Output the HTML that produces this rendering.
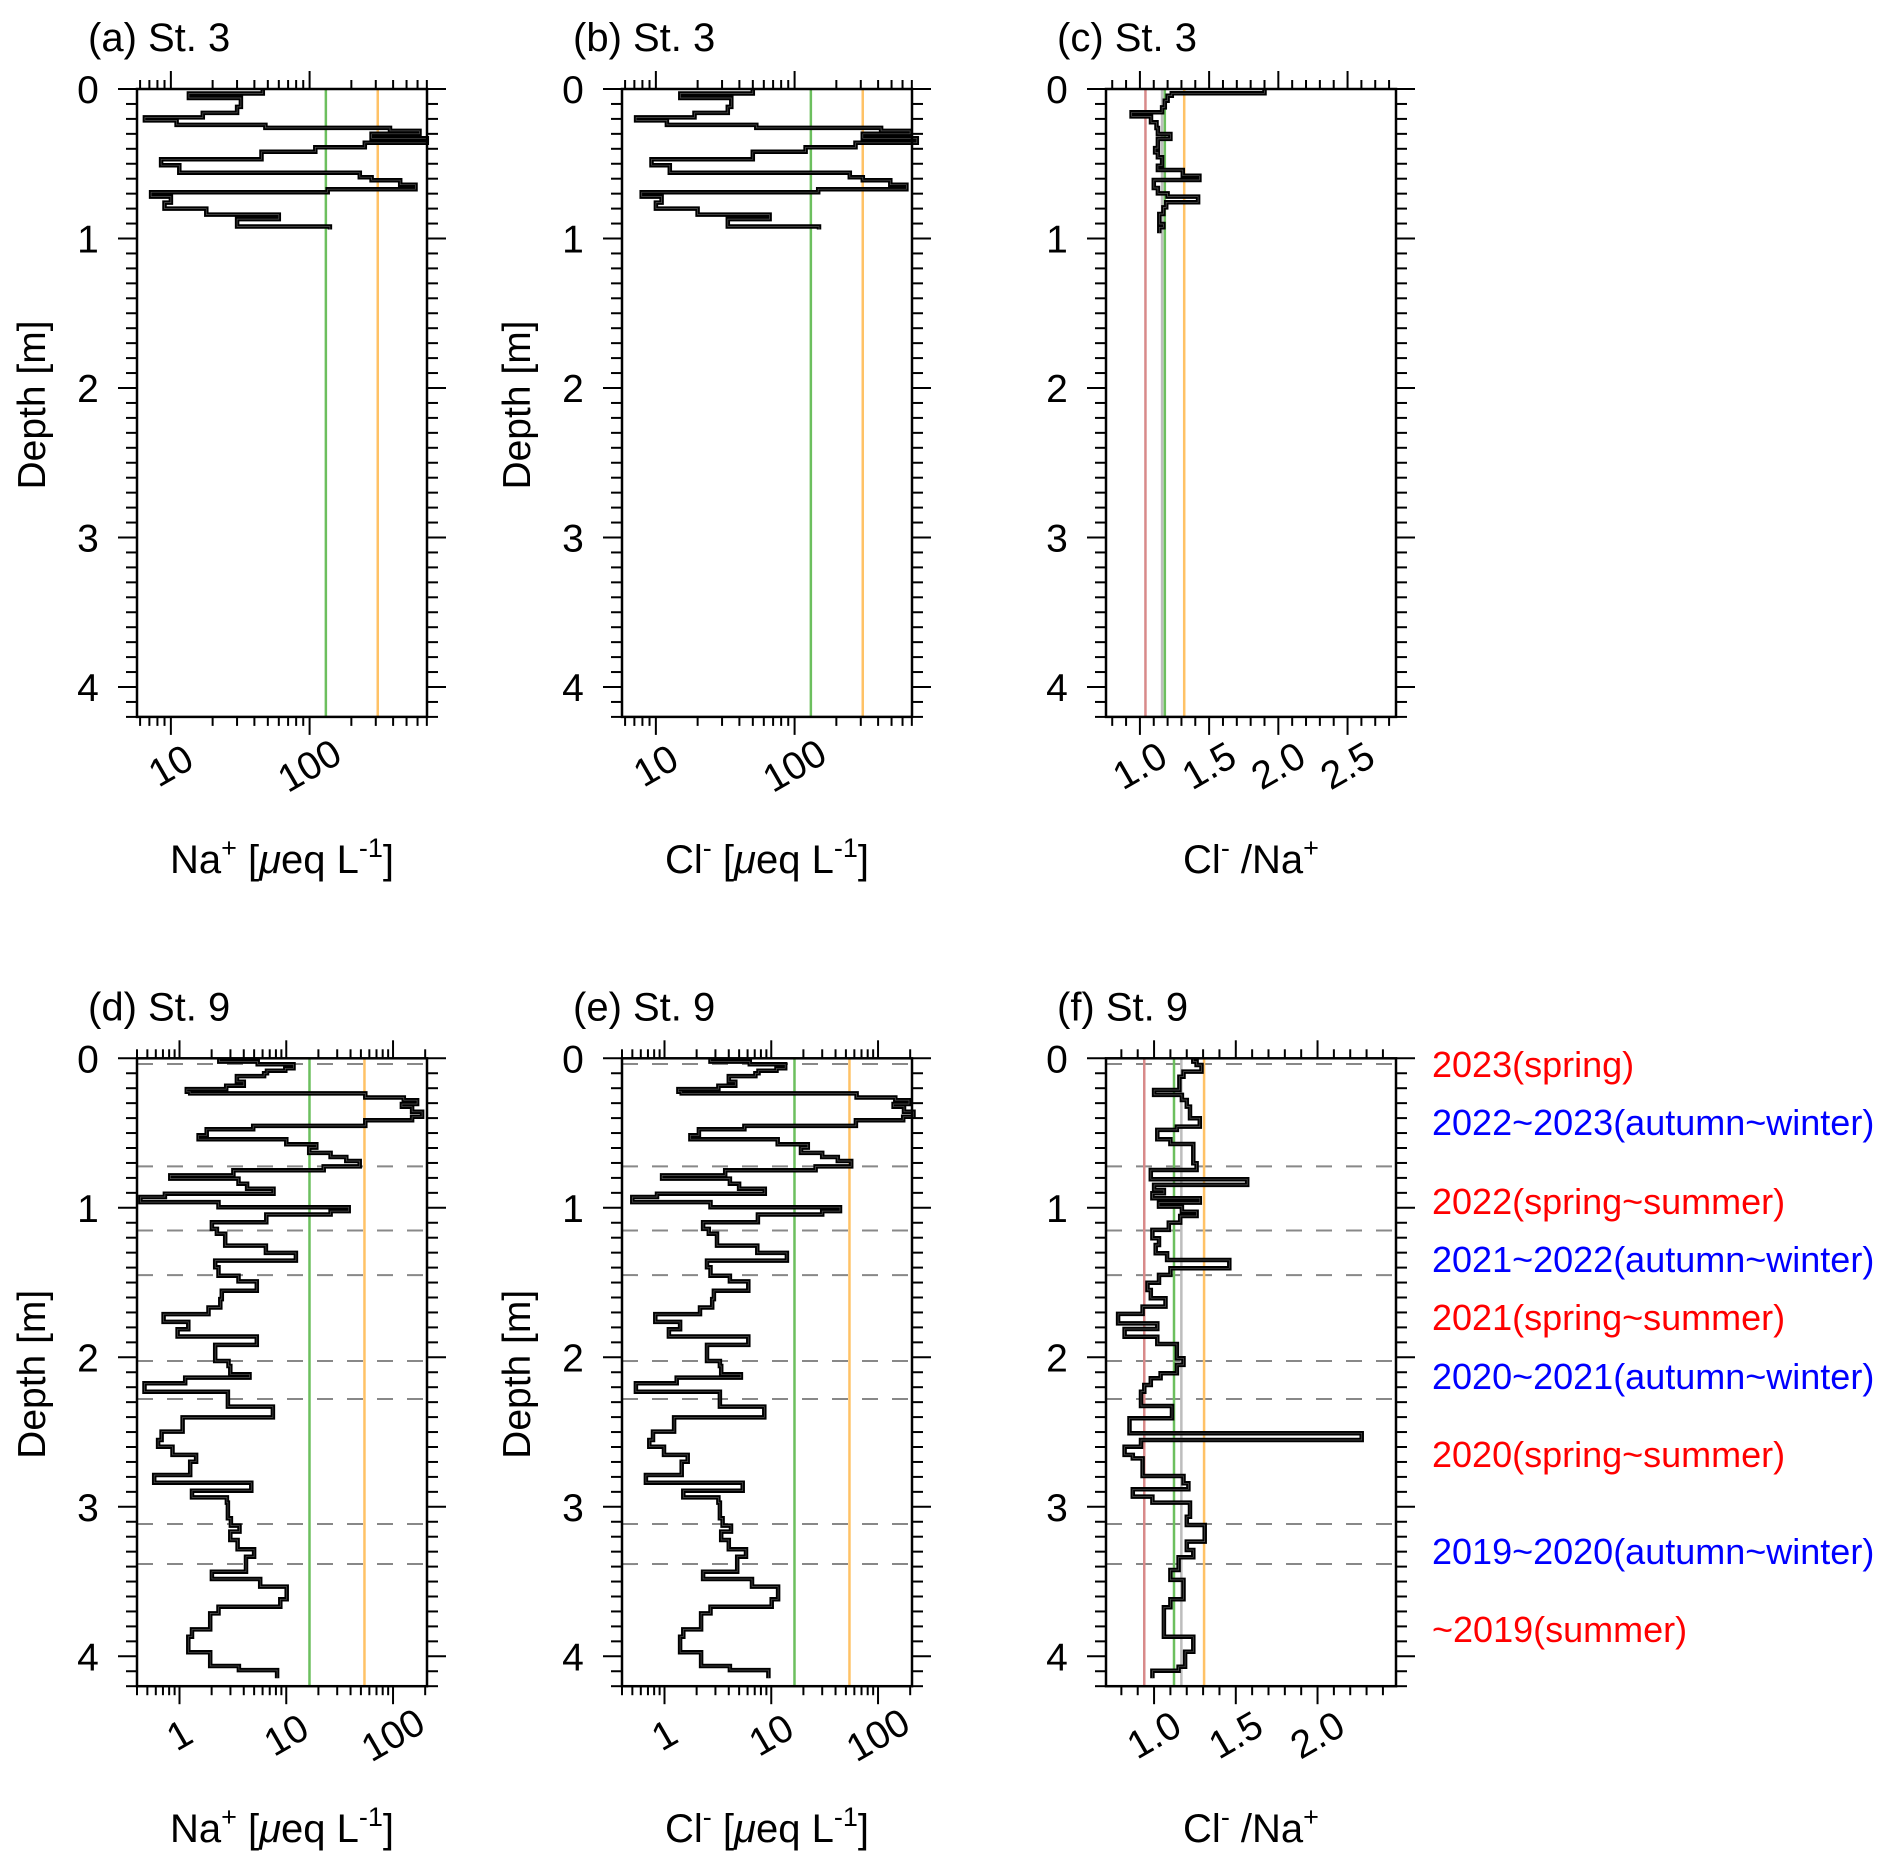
<!DOCTYPE html>
<html><head><meta charset="utf-8"><style>
html,body{margin:0;padding:0;background:#fff;}
svg{display:block;font-family:"Liberation Sans",Arial,sans-serif;}
</style></head><body>
<svg id="fig" width="1892" height="1870" viewBox="0 0 1892 1870" xmlns="http://www.w3.org/2000/svg"></svg>
<script>
// ---- data ----
const depthA=[0.03,0.06,0.12,0.16,0.19,0.21,0.24,0.26,0.28,0.30,0.33,0.36,0.39,0.42,0.47,0.51,0.56,0.59,0.61,0.64,0.67,0.69,0.72,0.76,0.80,0.84,0.87,0.92,0.94];
const naA=[46,13.5,32,30,17,6.5,11,48,380,620,280,700,250,110,45,8.5,11.5,230,280,450,580,135,7.2,10,9,18,60,30,140];
const clB=[50,15,35,33,19,7.2,12,53,420,680,310,760,275,120,50,9.3,12.6,250,310,490,640,148,7.9,11,10,20,66,33,150];
const depthC=[0.029,0.045,0.078,0.123,0.156,0.183,0.223,0.261,0.301,0.334,0.395,0.424,0.457,0.513,0.542,0.58,0.609,0.662,0.698,0.72,0.758,0.792,0.836,0.903,0.925,0.965];
const ratioC=[1.90,1.23,1.20,1.18,1.16,0.94,1.08,1.12,1.13,1.22,1.13,1.11,1.13,1.16,1.13,1.31,1.43,1.10,1.13,1.20,1.42,1.19,1.17,1.14,1.17,1.14];
const depthD=[0.022,0.040,0.067,0.083,0.10,0.119,0.157,0.183,0.206,0.224,0.235,0.262,0.280,0.306,0.324,0.358,0.391,0.414,0.452,0.474,0.515,0.541,0.575,0.597,0.633,0.660,0.687,0.723,0.749,0.783,0.805,0.839,0.872,0.906,0.928,0.962,0.996,1.022,1.045,1.096,1.141,1.174,1.253,1.302,1.353,1.398,1.454,1.492,1.555,1.611,1.667,1.711,1.763,1.812,1.861,1.917,2.025,2.058,2.114,2.136,2.174,2.230,2.330,2.402,2.497,2.553,2.598,2.653,2.698,2.787,2.839,2.892,2.937,2.972,3.077,3.126,3.166,3.222,3.284,3.334,3.434,3.483,3.534,3.619,3.668,3.713,3.82,3.869,3.973,4.065,4.092,4.147];
const naD=[2.36,5.4,11.7,9.8,6.6,6.2,3.45,4.0,2.74,1.17,1.26,55,126,168,121,151,187,151,55,4.9,1.8,1.51,10,19.1,16.4,26,36.5,48.7,22.4,3.2,0.82,3.57,4.3,7.6,0.73,0.43,2.32,38.4,26,6.5,2.01,2.24,2.68,6.45,12.3,2.16,2.32,3.57,5.3,2.49,2.41,1.87,0.71,1.21,0.96,5.3,2.16,2.88,2.99,4.53,1.13,0.47,2.84,7.5,1.07,0.68,0.63,0.86,1.43,1.26,0.58,4.7,1.31,2.78,2.84,3.03,3.65,2.99,3.5,5.0,4.2,2.01,5.7,10.1,8.8,2.32,1.94,1.31,1.21,1.94,3.6,8.2];
const clE=[2.7,6.3,13.5,11.2,7.6,7.1,4.0,4.6,3.2,1.35,1.45,63,145,195,140,175,215,172,62,5.6,2.1,1.75,11.5,22,19,30,42,56,26,3.7,0.95,4.1,5.0,8.7,0.85,0.5,2.7,44,30,7.5,2.3,2.6,3.1,7.4,14,2.5,2.7,4.1,6.1,2.9,2.8,2.15,0.82,1.4,1.1,6.1,2.5,3.3,3.4,5.2,1.3,0.54,3.3,8.6,1.23,0.78,0.72,0.99,1.65,1.45,0.67,5.4,1.5,3.2,3.3,3.5,4.2,3.4,4.0,5.8,4.8,2.3,6.6,11.6,10.1,2.7,2.2,1.5,1.4,2.2,4.1,9.4];
const depthF=[0.022,0.045,0.089,0.123,0.212,0.245,0.279,0.323,0.401,0.457,0.479,0.542,0.573,0.702,0.747,0.809,0.847,0.881,0.903,0.936,0.965,0.992,1.026,1.055,1.099,1.148,1.204,1.249,1.304,1.349,1.405,1.449,1.501,1.55,1.605,1.661,1.71,1.773,1.811,1.862,1.911,2.007,2.051,2.107,2.14,2.185,2.23,2.326,2.408,2.508,2.553,2.598,2.653,2.676,2.794,2.843,2.883,2.932,2.972,3.066,3.122,3.233,3.289,3.338,3.423,3.489,3.618,3.672,3.869,3.97,4.07,4.096,4.147];
const ratioF=[1.24,1.26,1.29,1.18,1.155,1.0,1.17,1.20,1.22,1.28,1.14,1.02,1.10,1.24,1.26,0.98,1.57,1.0,1.06,0.99,1.28,1.03,1.17,1.26,1.16,1.09,0.99,1.03,1.01,1.08,1.46,1.10,1.03,0.96,0.98,1.07,0.93,0.78,1.02,0.82,1.02,1.14,1.18,1.14,1.04,0.98,0.94,0.92,1.11,0.85,2.27,0.92,0.82,0.87,0.93,1.18,1.21,0.87,0.99,1.22,1.20,1.31,1.20,1.24,1.15,1.10,1.18,1.10,1.06,1.24,1.19,1.15,0.99];
const refTop=[131,310];       // green, orange for (a),(b)
const refBot=[16.5,54];       // green, orange for (d),(e)
const refC=[1.04,1.16,1.18,1.32]; // red, gray, green, orange
const refF=[0.94,1.167,1.122,1.306];
const seasonDepths=[0.038,0.723,1.152,1.45,2.025,2.279,3.115,3.383];
const seasonLabels=["2023(spring)","2022~2023(autumn~winter)","2022(spring~summer)","2021~2022(autumn~winter)","2021(spring~summer)","2020~2021(autumn~winter)","2020(spring~summer)","2019~2020(autumn~winter)","~2019(summer)"];
const seasonColors=["#ff0000","#0000ff","#ff0000","#0000ff","#ff0000","#0000ff","#ff0000","#0000ff","#ff0000"];
const seasonY=[1064,1122,1201,1259,1317,1376,1454,1551,1629];

// ---- drawing ----
const NS="http://www.w3.org/2000/svg";
const svg=document.getElementById('fig');
function mk(tag,attrs,parent){const e=document.createElementNS(NS,tag);for(const k in attrs)e.setAttribute(k,attrs[k]);(parent||svg).appendChild(e);return e;}
const PPM=149.5, DMAX=4.2;

function panel(p){
  const g=mk('g',{});
  
  
  const L=p.left,R=p.left+290,T=p.y0,B=p.y0+DMAX*PPM;
  const sx=v=>p.log? L+(Math.log10(v)-Math.log10(p.xmin))/(Math.log10(p.xmax)-Math.log10(p.xmin))*(R-L) : L+(v-p.xmin)/(p.xmax-p.xmin)*(R-L);
  const sy=d=>T+d*PPM;
  if(p.dashed){for(const d of seasonDepths){const l=mk('line',{x1:L,x2:R,y1:sy(d),y2:sy(d),stroke:'#888','stroke-width':2,'stroke-dasharray':'16,14'},g);
    
    }}
  p.refs.forEach((v,i)=>{const l=mk('line',{x1:sx(v),x2:sx(v),y1:T,y2:B,stroke:p.refColors[i],'stroke-width':2.5},g);
    
    });
  let d='',prev=0;
  p.vals.forEach((v,i)=>{const x=sx(v);d+=(i===0?'M':'L')+x.toFixed(1)+','+sy(prev).toFixed(1)+'L'+x.toFixed(1)+','+sy(p.depths[i]).toFixed(1);prev=p.depths[i];});
  const pr=mk('path',{d:d,fill:'none',stroke:'#000','stroke-width':4.5,'stroke-linejoin':'miter'},g);
  
  
  const pr2=mk('path',{d:d,fill:'none',stroke:'#555','stroke-width':0.7},g);
  
  
  const fr=mk('rect',{x:L,y:T,width:R-L,height:B-T,fill:'none',stroke:'#000','stroke-width':2.5},g);
  
  
  for(let k=0;k<=42;k++){const y=sy(k/10),len=(k%10===0)?19:11;
    mk('line',{x1:L-len,x2:L,y1:y,y2:y,stroke:'#000','stroke-width':2},g);
    mk('line',{x1:R,x2:R+len,y1:y,y2:y,stroke:'#000','stroke-width':2},g);
    if(k%10===0){const t=mk('text',{x:L-49,y:y+14,'font-size':39,'text-anchor':'middle'},g);t.textContent=String(k/10);
      
      }}
  const ticks=[];
  if(p.log){for(let e=-1;e<=3;e++)for(let m=1;m<=9;m++){const v=m*Math.pow(10,e);if(v>=p.xmin&&v<=p.xmax)ticks.push([v,m===1]);}}
  else{for(let k=Math.ceil(p.xmin*10);k<=Math.floor(p.xmax*10);k++)ticks.push([k/10,k%5===0]);}
  ticks.forEach(([v,maj])=>{const x=sx(v),len=maj?18:9;
    mk('line',{x1:x,x2:x,y1:T-len,y2:T,stroke:'#000','stroke-width':2},g);
    mk('line',{x1:x,x2:x,y1:B,y2:B+len,stroke:'#000','stroke-width':2},g);});
  p.labels.forEach(v=>{const x=sx(v),y=B+62;
    const t=mk('text',{x:x,y:y,'font-size':39,'text-anchor':'middle',transform:`rotate(-30 ${x} ${y-13})`},g);
    t.textContent=p.log?String(v):v.toFixed(1);
    
    });
  const ti=mk('text',{x:L-49,y:T-38,'font-size':40},g);ti.textContent=p.title;
  
  
  if(p.ytitle){const yy=T+316,xx=L-92;const t=mk('text',{x:xx,y:yy,'font-size':39,'text-anchor':'middle',transform:`rotate(-90 ${xx} ${yy})`},g);t.textContent='Depth [m]';
    
    }
  const xt=mk('text',{x:L+145,y:B+156,'font-size':40,'text-anchor':'middle'},g);
  xt.innerHTML=p.xtitle;
  
  
}
const sup=s=>`<tspan dy="-16" font-size="27">${s}</tspan><tspan dy="16"> </tspan>`;
const naT=`Na${sup('+')}[<tspan font-style="italic">μ</tspan>eq L<tspan dy="-16" font-size="27">-1</tspan><tspan dy="16">]</tspan>`;
const clT=`Cl${sup('-')}[<tspan font-style="italic">μ</tspan>eq L<tspan dy="-16" font-size="27">-1</tspan><tspan dy="16">]</tspan>`;
const rT=`Cl<tspan dy="-16" font-size="27">-</tspan><tspan dy="16"> /Na</tspan><tspan dy="-16" font-size="27">+</tspan>`;
const cTop=['#6cbf5e','#ffc266'], cR=['#d88a8a','#bdbdbd','#6cbf5e','#ffc266'];
panel({name:'panel-a',left:137,y0:89,xmin:5.7,xmax:702,log:true,depths:depthA,vals:naA,refs:refTop,refColors:cTop,labels:[10,100],title:'(a) St. 3',ytitle:true,xtitle:naT});
panel({name:'panel-b',left:622,y0:89,xmin:5.7,xmax:702,log:true,depths:depthA,vals:clB,refs:refTop,refColors:cTop,labels:[10,100],title:'(b) St. 3',ytitle:true,xtitle:clT});
panel({name:'panel-c',left:1106,y0:89,xmin:0.755,xmax:2.85,log:false,depths:depthC,vals:ratioC,refs:refC,refColors:cR,labels:[1.0,1.5,2.0,2.5],title:'(c) St. 3',ytitle:false,xtitle:rT});
panel({name:'panel-d',left:137,y0:1058.3,xmin:0.40,xmax:208,log:true,depths:depthD,vals:naD,refs:refBot,refColors:cTop,labels:[1,10,100],title:'(d) St. 9',ytitle:true,xtitle:naT,dashed:true});
panel({name:'panel-e',left:622,y0:1058.3,xmin:0.40,xmax:208,log:true,depths:depthD,vals:clE,refs:refBot,refColors:cTop,labels:[1,10,100],title:'(e) St. 9',ytitle:true,xtitle:clT,dashed:true});
panel({name:'panel-f',left:1106,y0:1058.3,xmin:0.706,xmax:2.48,log:false,depths:depthF,vals:ratioF,refs:refF,refColors:cR,labels:[1.0,1.5,2.0],title:'(f) St. 9',ytitle:false,xtitle:rT,dashed:true});
seasonLabels.forEach((s,i)=>{const t=mk('text',{x:1432,y:seasonY[i]+13,'font-size':36,fill:seasonColors[i]});t.textContent=s;
  
  });
</script>
</body></html>
